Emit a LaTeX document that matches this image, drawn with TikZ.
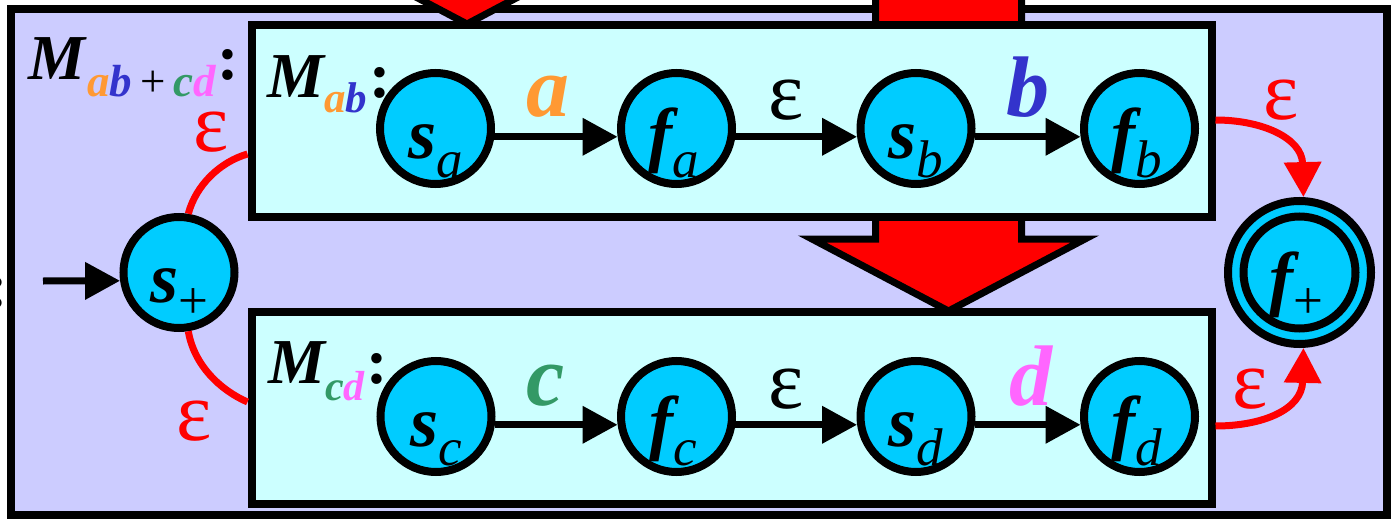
\documentclass[tikz,border=0pt]{standalone}
\usepackage{fontspec}
\setmainfont{Liberation Serif}
\usetikzlibrary{arrows.meta,calc}
\definecolor{outerbg}{HTML}{CCCCFF}
\definecolor{innerbg}{HTML}{CCFFFF}
\definecolor{stfill}{HTML}{00CCFF}
\definecolor{colA}{HTML}{FF9933}
\definecolor{colB}{HTML}{3333CC}
\definecolor{colC}{HTML}{339966}
\definecolor{colD}{HTML}{FF66FF}
\newcommand{\bigM}{\fontsize{64}{64}\selectfont\bfseries\itshape}
\newcommand{\subM}[1]{\fontsize{#1}{#1}\selectfont\bfseries\itshape}
\newcommand{\colonM}{{\fontsize{64}{64}\selectfont\bfseries\upshape :}}
\newcommand{\stl}[3][19pt]{{\fontsize{72}{72}\selectfont\bfseries\itshape #2}\raisebox{-#1}{\fontsize{53}{53}\selectfont\mdseries\itshape #3}}
\newcommand{\elf}{\fontsize{86}{86}\selectfont\bfseries\itshape}
\newcommand{\epsf}{\fontsize{84}{84}\selectfont}
\begin{document}
\begin{tikzpicture}[x=1pt,y=-1pt,
  stnode/.style={circle,draw=black,fill=stfill,line width=8pt,minimum size=111pt,inner sep=0pt},
  boxnode/.style={rectangle,draw=black,fill=innerbg,line width=8pt,minimum width=960pt,minimum height=192pt,inner sep=0pt},
  bigarrow/.style={fill=red,draw=black,line width=7pt,line join=miter},
  trans/.style={draw=black,line width=7pt,-{Triangle[length=35pt,width=36pt]}},
  epsline/.style={draw=red,line width=7pt},
  epsarrow/.style={draw=red,line width=7pt,-{Triangle[length=35pt,width=36pt]}},
  lbl/.style={inner sep=0pt,anchor=base},
  lblw/.style={inner sep=0pt,anchor=base west}]
\useasboundingbox (0,0) rectangle (1393,519);
% outer machine
\path[draw=black,fill=outerbg,line width=8pt] (11,9) rectangle (1387,515);
% big red arrows
\path[bigarrow] (394,-300) -- (394,-48) -- (330.5,-48) -- (467,24) -- (603.5,-48) -- (540,-48) -- (540,-300) -- cycle;
\path[bigarrow] (875.5,-300) -- (875.5,239) -- (812,239) -- (948.5,311) -- (1085,239) -- (1021.5,239) -- (1021.5,-300) -- cycle;
% sub machines
\node[boxnode] (Mab) at (731.5,121) {};
\node[boxnode] (Mcd) at (731.5,408) {};
% cut-off colon at the left edge
\node[inner sep=0pt,anchor=base east] (cutcolon) at (8,307) {\colonM};
% labels of machines
\node[lblw] (lMall) at (28,80) {{\bigM M}\raisebox{-17pt}{\subM{45}\hspace{2pt}\textcolor{colA}{a}\textcolor{colB}{b}\hspace{8pt}{\mdseries\upshape +}\hspace{8pt}\textcolor{colC}{c}\textcolor{colD}{d}}\hspace{2pt}\colonM};
\node[lblw] (lMab) at (267,97) {{\bigM M}\raisebox{-15pt}{\subM{43}\textcolor{colA}{a}\textcolor{colB}{b}}\hspace{2pt}\colonM};
\node[lblw] (lMcd) at (268,383) {{\bigM M}\raisebox{-17pt}{\subM{42}\textcolor{colC}{c}\textcolor{colD}{d}}\hspace{2pt}\colonM};
% states
\node[stnode] (sa) at (435.5,128.5) {};
\node[stnode] (fa) at (676.5,128.5) {};
\node[stnode] (sb) at (916,128.5) {};
\node[stnode] (fb) at (1139.5,128.5) {};
\node[stnode] (sc) at (436,416.5) {};
\node[stnode] (fc) at (676.5,416.5) {};
\node[stnode] (sd) at (916,416.5) {};
\node[stnode] (fd) at (1139.5,416.5) {};
\node[stnode] (splus) at (179,272.5) {};
\node[stnode,minimum size=143pt] (fplus) at (1299.5,272.5) {};
\node[stnode,minimum size=112pt] (fplusin) at (fplus.center) {};
% state labels
\node[lbl] (tsa) at ($(sa)+(0,29.5)$) {\stl{s}{a}};
\node[lbl] (tfa) at ($(fa)+(-3,29.5)$) {\stl{f}{a}};
\node[lbl] (tsb) at ($(sb)+(0,29.5)$) {\stl{s}{b}};
\node[lbl] (tfb) at ($(fb)+(-3,29.5)$) {\stl{f}{b}};
\node[lbl] (tsc) at ($(sc)+(0,29.5)$) {\stl{s}{c}};
\node[lbl] (tfc) at ($(fc)+(-3,29.5)$) {\stl{f}{c}};
\node[lbl] (tsd) at ($(sd)+(0,29.5)$) {\stl{s}{d}};
\node[lbl] (tfd) at ($(fd)+(-3,29.5)$) {\stl{f}{d}};
\node[lbl] (tsplus) at ($(splus)+(0,29.5)$) {\stl[16pt]{s}{\upshape +}};
\node[lbl] (tfplus) at ($(fplus)+(-3,29.5)$) {\stl[16pt]{f}{\upshape +}};
% transitions inside the machines
\draw[trans] (sa.-8) -- (fa.188);
\draw[trans] (fa.-8) -- (sb.188);
\draw[trans] (sb.-8) -- (fb.188);
\draw[trans] (sc.-8) -- (fc.188);
\draw[trans] (fc.-8) -- (sd.188);
\draw[trans] (sd.-8) -- (fd.188);
\node[lbl,text=colA] (la) at (548,117) {\elf a};
\node[lbl] (le1) at (786,120) {\epsf ε};
\node[lbl,text=colB] (lb) at (1028,116) {\elf b};
\node[lbl,text=colC] (lc) at (546,405) {\elf c};
\node[lbl] (le2) at (786,408) {\epsf ε};
\node[lbl,text=colD] (ld) at (1031,405) {\elf d};
% start arrow
\coordinate (start) at (43,281);
\draw[trans] (start) -- (splus.188);
% epsilon connections of the union
\draw[epsline] (splus.81) .. controls (196,185) and (220,162) .. ($(Mab.west)+(0,33)$);
\draw[epsline] (splus.-81) .. controls (194,365) and (220,390) .. ($(Mcd.west)+(0,-6)$);
\draw[epsarrow] ($(Mab.east)+(0,-1)$) .. controls (1262,120) and (1302,138) .. (fplus.87);
\draw[epsarrow] ($(Mcd.east)+(0,18)$) .. controls (1262,426) and (1302,410) .. (fplus.-87);
\node[lbl,text=red] (le3) at (211,151) {\epsf ε};
\node[lbl,text=red] (le4) at (194,440) {\epsf ε};
\node[lbl,text=red] (le5) at (1281,120) {\epsf ε};
\node[lbl,text=red] (le6) at (1250,408) {\epsf ε};
\end{tikzpicture}
\end{document}
